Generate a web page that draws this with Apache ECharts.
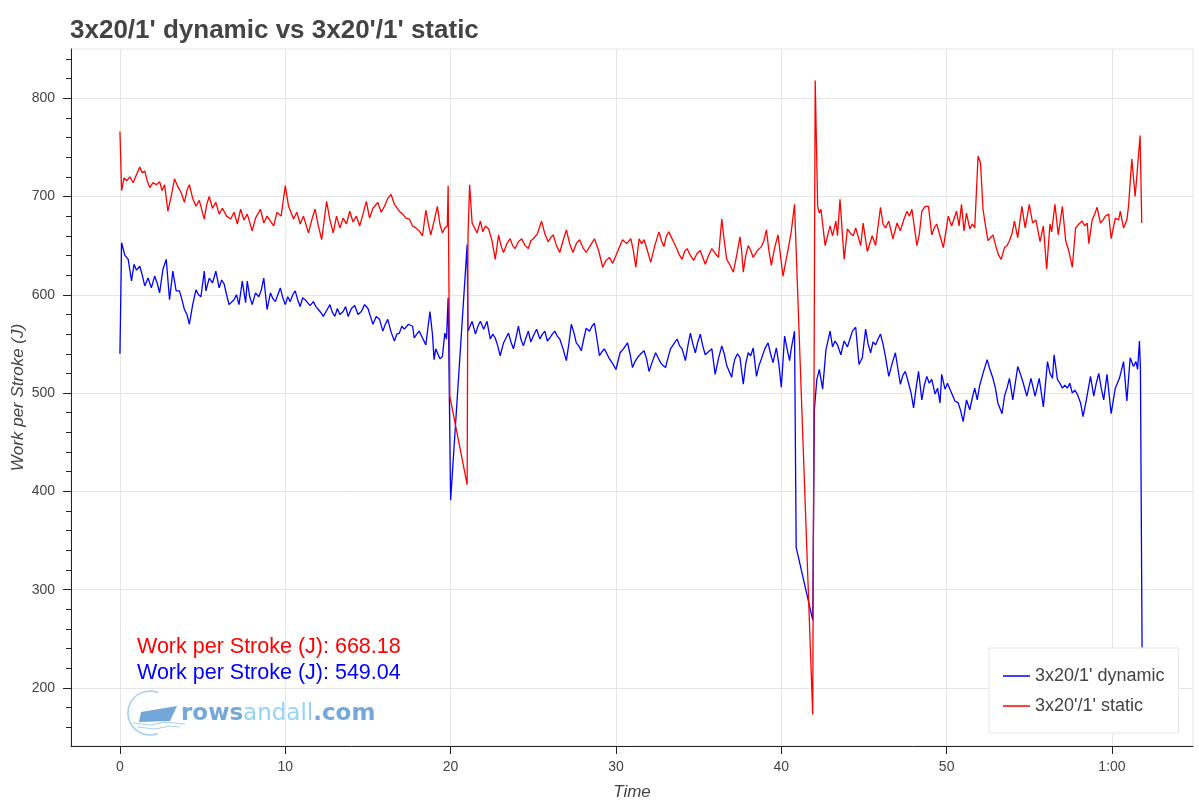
<!DOCTYPE html>
<html>
<head>
<meta charset="utf-8">
<script src="https://cdn.jsdelivr.net/npm/echarts@6/dist/echarts.min.js"></script>
<style>
html,body{margin:0;padding:0;background:#fff;}
#chart{width:1199px;height:808px;}
</style>
</head>
<body>
<div id="chart"></div>
<script>
// ---- data (time in minutes, work per stroke in J) ----
const titleText = "3x20/1' dynamic vs 3x20'/1' static";
const nameDynamic = "3x20/1' dynamic";
const nameStatic = "3x20'/1' static";
const avgStatic = 668.18;
const avgDynamic = 549.04;
const xTicks = [0, 10, 20, 30, 40, 50, 60];
const yTicks = [200, 300, 400, 500, 600, 700, 800];
const yMinorTicks = [160, 180, 220, 240, 260, 280, 320, 340, 360, 380, 420, 440, 460, 480, 520, 540, 560, 580, 620, 640, 660, 680, 720, 740, 760, 780, 820, 840];

const staticSeries = [
[0.0,766],[0.1,706],[0.25,719],[0.4,716],[0.6,720],[0.8,714],[1.0,722],[1.2,730],[1.35,724],[1.5,726],[1.65,716],[1.8,709],[2.0,714],[2.2,712],[2.4,715],[2.55,706],[2.7,712],[2.9,685],[3.1,700],[3.3,718],[3.5,710],[3.7,704],[3.9,694],[4.05,706],[4.2,712],[4.4,698],[4.6,690],[4.8,696],[5.1,677],[5.25,692],[5.4,700],[5.6,688],[5.8,694],[6.0,682],[6.2,688],[6.45,680],[6.7,677],[6.9,684],[7.1,672],[7.3,687],[7.5,676],[7.7,682],[8.0,665],[8.2,678],[8.5,687],[8.7,673],[8.9,680],[9.1,675],[9.3,670],[9.5,684],[9.75,680],[10.0,711],[10.2,690],[10.5,677],[10.7,684],[10.9,672],[11.1,680],[11.4,663],[11.6,676],[11.8,687],[12.0,670],[12.2,656],[12.5,695],[12.7,676],[12.9,663],[13.1,680],[13.3,668],[13.5,678],[13.7,672],[13.9,685],[14.1,674],[14.3,680],[14.5,670],[14.7,682],[14.9,695],[15.1,678],[15.3,688],[15.6,694],[15.8,684],[16.0,690],[16.2,698],[16.4,702],[16.6,692],[16.9,685],[17.1,682],[17.3,678],[17.5,677],[17.7,670],[17.9,668],[18.1,665],[18.3,660],[18.5,686],[18.65,672],[18.8,661],[19.0,675],[19.2,690],[19.35,672],[19.5,663],[19.65,668],[19.8,670],[19.85,711],[19.95,497],[21.0,407],[21.05,660],[21.15,712],
[21.3,673],[21.45,668],[21.6,663],[21.8,675],[21.95,664],[22.1,670],[22.3,667],[22.5,655],[22.7,636],[22.9,661],[23.05,650],[23.2,643],[23.4,652],[23.6,657],[23.75,650],[23.9,647],[24.1,654],[24.3,657],[24.5,650],[24.7,647],[24.85,655],[25.0,657],[25.25,662],[25.5,675],[25.7,662],[25.9,654],[26.05,658],[26.2,661],[26.4,650],[26.6,643],[26.8,655],[27.0,666],[27.2,652],[27.4,643],[27.6,652],[27.8,656],[28.0,648],[28.2,643],[28.45,650],[28.7,657],[28.95,645],[29.2,628],[29.4,635],[29.6,638],[29.8,632],[30.0,640],[30.2,648],[30.4,656],[30.65,652],[30.9,657],[31.05,645],[31.2,628],[31.4,657],[31.55,652],[31.7,656],[31.9,645],[32.1,633],[32.35,650],[32.6,664],[32.75,655],[32.9,649],[33.05,660],[33.2,664],[33.45,655],[33.7,646],[33.85,640],[34.0,636],[34.15,644],[34.3,647],[34.5,640],[34.7,635],[34.9,642],[35.1,645],[35.25,638],[35.4,631],[35.6,640],[35.8,647],[36.0,642],[36.2,638],[36.4,677],[36.55,655],[36.7,636],[36.9,630],[37.1,623],[37.3,640],[37.5,659],[37.6,645],[37.7,623],[37.85,640],[38.0,650],[38.15,645],[38.3,638],[38.55,645],[38.8,649],[38.95,655],[39.1,666],[39.25,645],[39.4,630],[39.6,648],[39.8,661],[39.95,640],[40.1,619],[40.25,632],[40.4,645],[40.6,664],[40.8,692],
[41.9,173],[42.05,818],[42.2,690],[42.3,683],[42.4,687],[42.65,650],[42.95,670],[43.1,660],[43.3,675],[43.4,660],[43.55,697],[43.8,636],[44.0,667],[44.2,662],[44.35,660],[44.5,668],[44.8,650],[44.95,673],[45.2,644],[45.5,660],[45.7,650],[46.0,689],[46.15,672],[46.3,668],[46.5,675],[46.75,657],[47.0,673],[47.2,665],[47.4,676],[47.6,685],[47.75,680],[47.9,687],[48.2,650],[48.35,662],[48.5,685],[48.7,690],[48.9,690],[49.1,661],[49.25,668],[49.4,672],[49.6,660],[49.8,648],[50.1,680],[50.3,670],[50.6,685],[50.75,670],[50.9,692],[51.05,665],[51.2,683],[51.4,667],[51.55,672],[51.7,668],[51.9,741],[52.05,734],[52.2,687],[52.35,670],[52.5,655],[52.65,658],[52.8,661],[53.0,648],[53.15,640],[53.3,636],[53.5,648],[53.65,650],[53.8,655],[53.95,662],[54.1,675],[54.3,658],[54.55,690],[54.75,668],[55.0,692],[55.2,673],[55.4,676],[55.65,654],[55.85,670],[56.05,626],[56.25,672],[56.35,664],[56.55,692],[56.75,661],[57.0,690],[57.2,655],[57.4,644],[57.6,628],[57.8,668],[58.0,672],[58.2,675],[58.35,670],[58.5,673],[58.6,652],[58.8,676],[58.95,682],[59.1,689],[59.3,673],[59.45,676],[59.6,680],[59.8,682],[59.95,657],[60.2,678],[60.4,676],[60.5,685],[60.7,668],[60.9,676],[61.0,690],[61.2,738],[61.4,700],[61.5,720],[61.7,762],[61.8,673]
];

const dynamicSeries = [
[0.0,540],[0.1,653],[0.3,640],[0.5,636],[0.7,614],[0.85,631],[1.0,625],[1.2,629],[1.35,620],[1.5,609],[1.7,617],[1.9,607],[2.1,619],[2.25,612],[2.4,602],[2.6,626],[2.8,636],[3.0,595],[3.2,624],[3.4,604],[3.6,604],[3.75,595],[3.9,585],[4.05,580],[4.2,570],[4.4,590],[4.6,605],[4.75,600],[4.9,598],[5.1,624],[5.2,604],[5.4,617],[5.6,612],[5.8,624],[6.0,607],[6.15,615],[6.3,611],[6.45,600],[6.6,590],[6.9,595],[7.05,600],[7.2,590],[7.4,614],[7.6,592],[7.7,614],[7.85,598],[8.0,590],[8.2,602],[8.4,598],[8.55,605],[8.7,617],[8.9,585],[9.1,602],[9.25,596],[9.4,593],[9.55,600],[9.7,607],[9.85,597],[10.0,590],[10.15,598],[10.3,593],[10.45,600],[10.6,604],[10.75,595],[10.9,588],[11.05,597],[11.2,595],[11.35,592],[11.5,589],[11.7,593],[11.85,588],[12.0,585],[12.15,582],[12.3,578],[12.5,584],[12.7,590],[12.85,582],[13.0,578],[13.15,586],[13.3,580],[13.5,583],[13.65,588],[13.8,578],[14.0,586],[14.2,589],[14.4,580],[14.6,583],[14.8,590],[15.0,586],[15.15,578],[15.3,570],[15.5,578],[15.7,575],[15.9,563],[16.05,570],[16.2,575],[16.4,562],[16.6,553],[16.75,560],[16.9,561],[17.05,568],[17.2,565],[17.45,570],[17.7,568],[17.8,556],[17.95,560],[18.1,563],[18.3,556],[18.5,549],[18.75,583],[18.9,560],[19.0,534],[19.1,545],[19.2,544],[19.35,535],[19.5,537],[19.65,561],[19.75,555],[19.85,597],[20.0,391],[21.0,651],
[21.05,563],[21.3,573],[21.5,560],[21.65,568],[21.8,573],[22.0,565],[22.2,573],[22.4,555],[22.55,560],[22.7,556],[22.85,548],[23.0,538],[23.2,551],[23.35,556],[23.5,561],[23.65,552],[23.8,545],[23.95,556],[24.1,568],[24.25,555],[24.4,548],[24.55,556],[24.7,563],[24.85,552],[25.0,558],[25.2,565],[25.4,555],[25.55,560],[25.7,563],[25.85,553],[26.0,556],[26.15,560],[26.3,563],[26.45,558],[26.6,555],[26.8,545],[27.0,533],[27.15,550],[27.3,570],[27.45,562],[27.6,551],[27.75,548],[27.9,543],[28.05,555],[28.2,566],[28.4,563],[28.55,568],[28.7,571],[28.85,555],[29.0,538],[29.15,542],[29.3,545],[29.45,540],[29.6,535],[29.8,530],[30.0,524],[30.25,541],[30.45,545],[30.7,551],[30.85,540],[31.0,526],[31.15,532],[31.3,536],[31.5,540],[31.7,543],[31.85,535],[32.0,522],[32.2,532],[32.4,541],[32.55,536],[32.7,531],[32.85,528],[33.0,526],[33.15,536],[33.3,545],[33.5,550],[33.7,555],[33.85,548],[34.0,545],[34.2,533],[34.35,548],[34.5,561],[34.65,550],[34.8,541],[34.95,552],[35.1,560],[35.25,548],[35.4,539],[35.6,542],[35.8,545],[36.0,519],[36.2,535],[36.4,548],[36.55,540],[36.7,528],[36.85,522],[37.0,516],[37.1,528],[37.2,535],[37.35,540],[37.5,536],[37.7,509],[37.85,530],[38.0,541],[38.15,538],[38.3,546],[38.5,517],[38.65,528],[38.8,535],[39.0,545],[39.2,551],[39.35,540],[39.5,531],[39.7,546],[39.85,530],[40.0,506],[40.2,558],[40.35,545],[40.5,533],[40.6,545],[40.8,563],[40.9,343],[41.9,269],
[42.0,483],[42.15,514],[42.3,524],[42.5,504],[42.7,544],[42.95,563],[43.1,547],[43.25,553],[43.4,549],[43.6,539],[43.8,553],[44.0,547],[44.15,555],[44.3,563],[44.5,567],[44.7,529],[44.9,536],[45.1,565],[45.25,550],[45.4,541],[45.55,552],[45.7,549],[45.85,555],[46.0,560],[46.15,550],[46.3,537],[46.5,517],[46.7,530],[46.9,541],[47.05,525],[47.2,509],[47.35,518],[47.5,522],[47.7,510],[47.85,500],[48.0,485],[48.15,505],[48.3,522],[48.5,493],[48.65,508],[48.8,517],[48.95,510],[49.1,514],[49.3,499],[49.45,505],[49.6,490],[49.7,519],[49.9,504],[50.05,510],[50.2,504],[50.35,498],[50.5,492],[50.7,490],[50.85,482],[51.0,471],[51.2,493],[51.4,483],[51.55,495],[51.7,505],[51.85,493],[52.0,508],[52.2,520],[52.45,534],[52.6,525],[52.8,515],[52.95,505],[53.1,490],[53.35,479],[53.5,497],[53.65,505],[53.8,515],[54.0,493],[54.15,510],[54.3,527],[54.45,520],[54.6,512],[54.85,497],[55.1,515],[55.35,497],[55.6,515],[55.85,486],[56.1,532],[56.25,520],[56.4,515],[56.5,539],[56.7,514],[56.85,510],[57.0,505],[57.15,508],[57.3,505],[57.45,510],[57.6,500],[57.75,503],[57.9,499],[58.1,490],[58.25,476],[58.45,493],[58.7,517],[58.9,497],[59.05,510],[59.2,520],[59.35,505],[59.5,493],[59.7,519],[59.95,479],[60.2,505],[60.45,515],[60.7,532],[60.9,492],[61.1,536],[61.3,527],[61.45,532],[61.55,524],[61.66,553],[61.72,526],[61.82,241]
];

// ---- chart ----
const FONT = "'Liberation Sans', Arial, Helvetica, sans-serif";
const chart = echarts.init(document.getElementById('chart'), null, {renderer: 'canvas'});
const option = {
  animation: false,
  backgroundColor: '#fff',
  title: {
    text: titleText, left: 70, top: 18, padding: 0,
    textStyle: {fontFamily: FONT, fontSize: 26, fontWeight: 'bold', color: '#444'}
  },
  grid: {left: 71, right: 6, top: 49, bottom: 62, outerBoundsMode: 'none', containLabel: false,
    show: true, borderColor: '#e5e5e5', borderWidth: 1, backgroundColor: 'transparent'},
  legend: {
    orient: 'vertical', left: 989, top: 648,
    data: [{name: nameDynamic, icon: 'rect'}, {name: nameStatic, icon: 'rect'}],
    itemWidth: 27, itemHeight: 1.5, itemGap: 10,
    padding: [18, 14, 17, 14],
    borderColor: '#e5e5e5', borderWidth: 1, backgroundColor: '#fff',
    textStyle: {fontFamily: FONT, fontSize: 18, color: '#444', lineHeight: 20}
  },
  xAxis: {
    type: 'value', min: -2.96, max: 64.9,
    name: 'Time', nameLocation: 'middle', nameGap: 38, nameMoveOverlap: false,
    nameTextStyle: {fontFamily: FONT, fontSize: 17, fontStyle: 'italic', color: '#444'},
    axisLine: {show: true, onZero: false, lineStyle: {color: '#222', width: 1}},
    axisTick: {show: true, customValues: xTicks, length: 8, lineStyle: {color: '#222'}},
    axisLabel: {customValues: xTicks, margin: 14, fontFamily: FONT, fontSize: 14, color: '#444',
      formatter: v => v === 60 ? '1:00' : String(v)},
    splitLine: {show: true, lineStyle: {color: '#e5e5e5', width: 1}}
  },
  yAxis: [{
    type: 'value', min: 141, max: 850, position: 'left',
    name: 'Work per Stroke (J)', nameLocation: 'middle', nameGap: 44, nameMoveOverlap: false,
    nameTextStyle: {fontFamily: FONT, fontSize: 17, fontStyle: 'italic', color: '#444'},
    axisLine: {show: true, onZero: false, lineStyle: {color: '#222', width: 1}},
    axisTick: {show: true, customValues: yTicks, length: 8, lineStyle: {color: '#222'}},
    axisLabel: {customValues: yTicks, margin: 16, fontFamily: FONT, fontSize: 14, color: '#444'},
    splitLine: {show: true, lineStyle: {color: '#e5e5e5', width: 1}}
  }, {
    type: 'value', min: 141, max: 850, position: 'left', offset: 0,
    axisLine: {show: false, onZero: false},
    axisTick: {show: true, customValues: yMinorTicks, length: 5, lineStyle: {color: '#222'}},
    axisLabel: {show: false, customValues: yMinorTicks},
    splitLine: {show: false}
  }],
  series: [{
    name: nameDynamic, type: 'line', data: dynamicSeries, yAxisIndex: 0,
    symbol: 'none', showSymbol: false, color: '#0000ff',
    lineStyle: {color: '#0000ff', width: 1.3}, z: 3
  }, {
    name: nameStatic, type: 'line', data: staticSeries, yAxisIndex: 0,
    symbol: 'none', showSymbol: false, color: '#ff0000',
    lineStyle: {color: '#ff0000', width: 1.3}, z: 4
  }],
  graphic: [
    {type: 'text', z: 100, style: {text: 'Work per Stroke (J): ' + avgStatic.toFixed(2), x: 137, y: 647,
      fill: '#ff0000', font: "21.5px 'Liberation Sans', Arial, sans-serif", verticalAlign: 'middle'}},
    {type: 'text', z: 100, style: {text: 'Work per Stroke (J): ' + avgDynamic.toFixed(2), x: 137, y: 673,
      fill: '#0000ff', font: "21.5px 'Liberation Sans', Arial, sans-serif", verticalAlign: 'middle'}},
    // rowsandall.com watermark
    {type: 'arc', z: 90, shape: {cx: 150, cy: 713, r: 22, startAngle: -1.2, endAngle: 1.2, clockwise: false},
      style: {stroke: '#a8d0ee', lineWidth: 1.6, fill: null}},
    {type: 'polygon', z: 91, shape: {points: [[141, 712], [177, 706], [170, 721], [139, 722]]},
      style: {fill: '#73a6d9'}},
    {type: 'polyline', z: 91, shape: {points: [[133, 723], [150, 725], [165, 722], [185, 724]]},
      style: {stroke: '#a8d0ee', lineWidth: 1.2, fill: null}},
    {type: 'polyline', z: 91, shape: {points: [[138, 727], [155, 729], [170, 726], [180, 727]]},
      style: {stroke: '#a8d0ee', lineWidth: 1, fill: null}},
    {type: 'text', z: 92, style: {
      text: '{a|rows}{b|andall}{a|.com}', x: 181, y: 714, verticalAlign: 'middle',
      rich: {
        a: {fontFamily: "'DejaVu Sans', sans-serif", fontSize: 23, fontWeight: 'bold', fill: '#74a8d8', color: '#74a8d8'},
        b: {fontFamily: "'DejaVu Sans', sans-serif", fontSize: 23, fontWeight: 'normal', fill: '#94d4f0', color: '#94d4f0'}
      }}}
  ]
};
chart.setOption(option);
</script>
</body>
</html>
